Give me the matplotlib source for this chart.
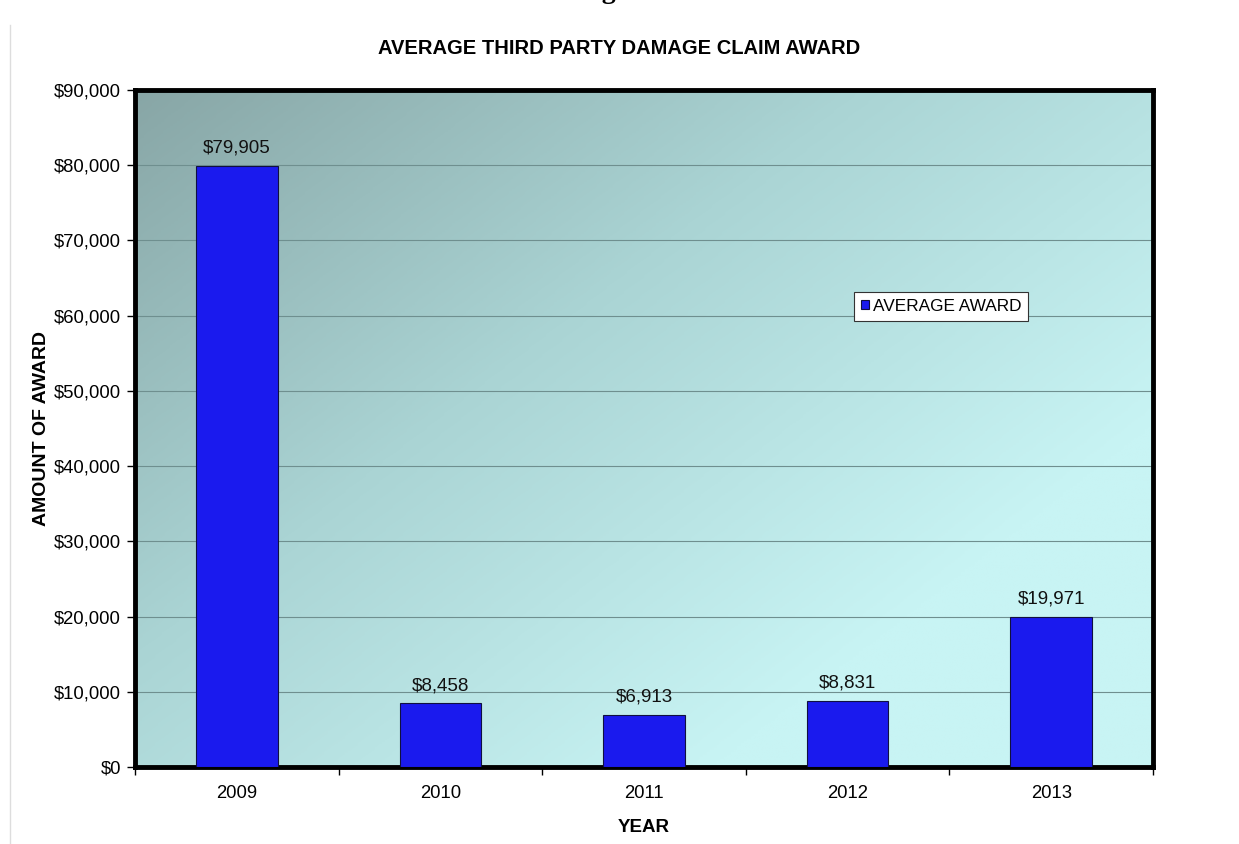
import numpy as np
import matplotlib
matplotlib.use("Agg")
import matplotlib.pyplot as plt
from matplotlib.colors import LinearSegmentedColormap
from matplotlib.ticker import FuncFormatter, MultipleLocator

years = ["2009", "2010", "2011", "2012", "2013"]
avg_award = [79905, 8458, 6913, 8831, 19971]
series_name = "AVERAGE AWARD"

plt.rcParams["font.family"] = ["Liberation Sans", "DejaVu Sans"]

fig = plt.figure(figsize=(12.39, 8.44), dpi=100)
ax = fig.add_axes([0.109, 0.0912, 0.8216, 0.8022])

x = np.arange(len(years))
ax.set_xlim(-0.5, len(years) - 0.5)
ax.set_ylim(0, 90000)

# diagonal gradient background, dark top-left to light bottom-right
cmap = LinearSegmentedColormap.from_list("bg", ["#88a6a6", "#aad4d4", "#c8f4f4"])
gx, gy = np.meshgrid(np.linspace(0, 1, 300), np.linspace(0, 1, 300))
grad = np.clip(0.7 * gx + 0.6 * gy, 0, 1)
ax.imshow(grad, cmap=cmap, aspect="auto", origin="upper",
          extent=[-0.5, len(years) - 0.5, 0, 90000], zorder=0, interpolation="bilinear")

ax.yaxis.set_major_locator(MultipleLocator(10000))
ax.grid(axis="y", color="#6f8f8f", linewidth=0.8, zorder=1)

bars = ax.bar(x, avg_award, width=0.4, color="#1a1aee", edgecolor="#101040",
              linewidth=0.8, zorder=3, label=series_name)

for xi, v in zip(x, avg_award):
    ax.text(xi, v + 1200, f"${v:,}", ha="center", va="bottom", fontsize=13.5,
            color="#111111", zorder=4)

ax.yaxis.set_major_formatter(FuncFormatter(lambda v, p: f"${v:,.0f}"))
ax.set_xticks(x)
ax.set_xticklabels(years)
ax.set_xticks(np.arange(len(years) + 1) - 0.5, minor=True)
ax.tick_params(axis="x", which="major", length=0, labelsize=13.3, pad=13)
ax.tick_params(axis="x", which="minor", length=6, width=1, direction="out")
ax.tick_params(axis="y", length=6, width=1, labelsize=13.3, pad=4)

for s in ax.spines.values():
    s.set_linewidth(3.5)
    s.set_color("black")

ax.set_xlabel("YEAR", fontsize=13.5, fontweight="bold", labelpad=12)
ax.set_ylabel("AMOUNT OF AWARD", fontsize=14, fontweight="bold", labelpad=3)

leg = ax.legend(loc="upper left", bbox_to_anchor=(0.706, 0.702), fontsize=12.4,
                frameon=True, fancybox=False, handlelength=0.5, handleheight=0.5,
                handletextpad=0.2, borderpad=0.4, borderaxespad=0)
leg.get_frame().set_edgecolor("#333333")
leg.get_frame().set_linewidth(0.8)
leg.get_frame().set_facecolor("white")
leg.get_frame().set_alpha(1)

fig.text(0.5, 0.943, "AVERAGE THIRD PARTY DAMAGE CLAIM AWARD", ha="center", va="center",
         fontsize=14.5, fontweight="bold")

# clipped page heading and page edge from the scanned report
fig.text(0.506, 1.002, "Figure 6", ha="center", va="baseline", fontsize=20,
         fontweight="bold", family=["Liberation Serif", "DejaVu Serif"])
fig.add_artist(plt.Line2D([0.008, 0.008], [0, 0.97], color="#dddddd", linewidth=1,
                          transform=fig.transFigure))

fig.savefig("out.png", dpi=100)
